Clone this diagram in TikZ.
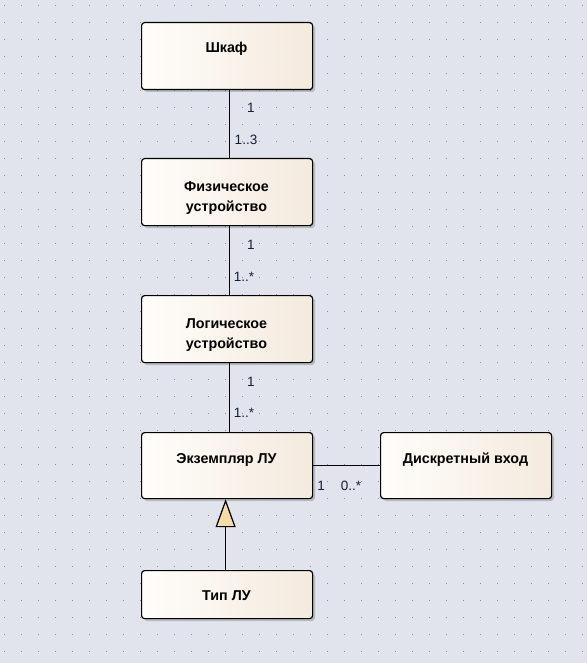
\documentclass[tikz,border=0pt]{standalone}
\usepackage{fontspec}
\setmainfont{Liberation Sans}
\usetikzlibrary{arrows.meta}
\definecolor{canvas}{RGB}{225,228,236}
\definecolor{griddot}{RGB}{140,142,150}
\definecolor{boxleft}{RGB}{255,253,250}
\definecolor{boxright}{RGB}{244,234,222}
\definecolor{multi}{RGB}{20,30,55}
\definecolor{genfill}{RGB}{247,220,170}
\tikzset{
  x=1pt, y=-1pt,
  classbox/.style={draw=black, line width=1.2pt, rounded corners=3pt,
    left color=boxleft, right color=boxright, minimum width=171pt,
    anchor=north west, inner sep=0pt},
  classname/.style={anchor=base, inner sep=0pt, font=\bfseries\fontsize{14.3}{18}\selectfont},
  shadowbox/.style={fill=black, opacity=0.18, rounded corners=3pt},
  assoc/.style={draw=black, line width=1.2pt},
  mult/.style={text=multi, font=\fontsize{13.5}{14}\selectfont, inner sep=0pt}
}
\begin{document}
\begin{tikzpicture}
  \fill[canvas] (0,0) rectangle (587,663);
  \useasboundingbox (0,0) rectangle (587,663);
  % dotted drawing grid
  \foreach \gx in {4,21,...,587}
    \foreach \gy in {5,22,...,663}
      \fill[griddot] (\gx,\gy) rectangle ++(1.3,1.3);

  % shadows under the boxes
  \foreach \bx/\by/\bh in {141/22/67, 141/158/67, 141/295/67, 141/432/66, 380/432/66, 141/570/48}
    \fill[shadowbox] (\bx+3,\by+3) rectangle ++(171,\bh);

  % classes
  \node[classbox, minimum height=67pt] (shkaf) at (141,22) {};
  \node[classbox, minimum height=67pt] (phys) at (141,158) {};
  \node[classbox, minimum height=67pt] (logic) at (141,295) {};
  \node[classbox, minimum height=66pt] (inst) at (141,432) {};
  \node[classbox, minimum height=66pt] (dinput) at (380,432) {};
  \node[classbox, minimum height=48pt] (type) at (141,570) {};

  % class names
  \node[classname] (t-shkaf) at (226.5,53) {Шкаф};
  \node[classname] (t-phys1) at (226.5,191) {Физическое};
  \node[classname] (t-phys2) at (226.5,211) {устройство};
  \node[classname] (t-logic1) at (226.5,328) {Логическое};
  \node[classname] (t-logic2) at (226.5,348) {устройство};
  \node[classname] (t-inst) at (226.5,463) {Экземпляр ЛУ};
  \node[classname] (t-dinput) at (465.5,463) {Дискретный вход};
  \node[classname] (t-type) at (226.5,600) {Тип ЛУ};

  % associations
  \draw[assoc] ([xshift=2pt]shkaf.south) -- ([xshift=2pt]phys.north);
  \draw[assoc] ([xshift=2pt]phys.south) -- ([xshift=2pt]logic.north);
  \draw[assoc] ([xshift=2pt]logic.south) -- ([xshift=2pt]inst.north);
  \draw[assoc] (inst.east) -- (dinput.west);

  % generalization
  \draw[assoc, -{Triangle[open, fill=genfill, width=20pt, length=28pt]}]
    ([xshift=-1.5pt]type.north) -- ([xshift=-1.5pt]inst.south);

  % multiplicities
  \node[mult] (m1) at (251,108) {1};
  \node[mult] (m2) at (246,140) {1..3};
  \node[mult] (m3) at (251,245) {1};
  \node[mult] (m4) at (244,277) {1..*};
  \node[mult] (m5) at (251,382) {1};
  \node[mult] (m6) at (244,413) {1..*};
  \node[mult] (m7) at (321,486) {1};
  \node[mult] (m8) at (351,486) {0..*};
\end{tikzpicture}
\end{document}
